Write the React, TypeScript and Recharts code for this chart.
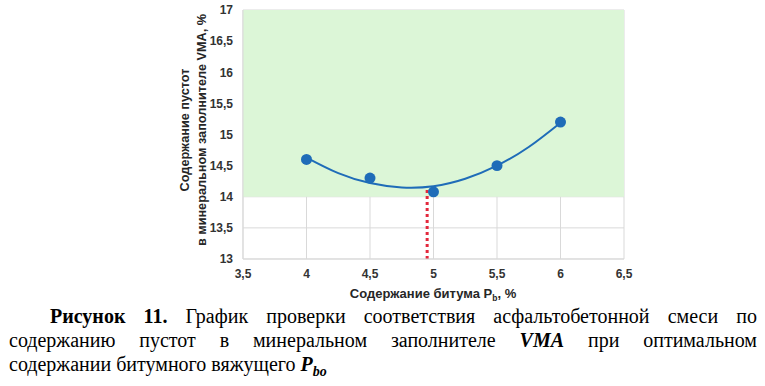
import {
  CartesianGrid,
  ComposedChart,
  Label,
  Line,
  ReferenceArea,
  ReferenceLine,
  Scatter,
  XAxis,
  YAxis,
  ZAxis,
} from 'recharts';

// measured points: bitumen content Pb, % -> VMA, %
const bitumen = [4, 4.5, 5, 5.5, 6];
const vma = [14.6, 14.3, 14.08, 14.5, 15.2];

// polynomial trend line
const trendX = [4, 4.25, 4.5, 4.75, 5, 5.25, 5.5, 5.75, 6];
const trendY = [14.63, 14.38, 14.22, 14.15, 14.17, 14.29, 14.5, 14.8, 15.19];

const xTicks = [3.5, 4, 4.5, 5, 5.5, 6, 6.5];
const yTicks = [13, 13.5, 14, 14.5, 15, 15.5, 16, 16.5, 17];

// allowed VMA zone and optimum bitumen content
const vmaMin = 14;
const vmaMax = 17;
const optimumPb = 4.95;
const optimumVma = 14.16;

const points = bitumen.map((x, i) => ({ x, y: vma[i] }));
const trend = trendX.map((x, i) => ({ x, y: trendY[i] }));

const blue = '#1f6cb8';
const grid = '#d9d9d9';
const sans = '"Liberation Sans", Arial, sans-serif';
const serif = '"Liberation Serif", "Times New Roman", serif';

const fmt = (v: number) => String(v).replace('.', ',');

const tickStyle = { fontFamily: sans, fontSize: 12, fontWeight: 700, fill: '#333' };

function YTitle(props: any) {
  const cy = 130;
  return (
    <g fontFamily={sans} fontSize={12.7} fontWeight={700} fill="#262626">
      <text x={189} y={cy} textAnchor="middle" transform={`rotate(-90 189 ${cy})`}>
        Содержание пустот
      </text>
      <text x={206} y={cy} textAnchor="middle" transform={`rotate(-90 206 ${cy})`}>
        в минеральном заполнителе VMA, %
      </text>
    </g>
  );
}

function XTitle(props: any) {
  return (
    <text x={433} y={298} textAnchor="middle" fontFamily={sans} fontSize={13} fontWeight={700} fill="#262626">
      Содержание битума P
      <tspan fontSize={8.5} dy={3}>b</tspan>
      <tspan dy={-3}>, %</tspan>
    </text>
  );
}

export default function App() {
  return (
    <div style={{ position: 'absolute', left: 0, top: 0, width: 765, height: 386, background: '#fff' }}>
      <ComposedChart width={765} height={386} margin={{ top: 10, right: 141, left: 0, bottom: 87 }}>
        <ReferenceArea y1={vmaMin} y2={vmaMax} fill="#dcf6d7" fillOpacity={1} stroke="none" />
        <CartesianGrid stroke={grid} strokeWidth={1} />
        <XAxis
          type="number"
          dataKey="x"
          domain={[3.5, 6.5]}
          ticks={xTicks}
          tickFormatter={fmt}
          tick={tickStyle}
          tickLine={false}
          tickSize={0}
          tickMargin={10}
          axisLine={{ stroke: grid }}
          height={40}
          allowDataOverflow
        >
          <Label content={<XTitle />} />
        </XAxis>
        <YAxis
          type="number"
          dataKey="y"
          domain={[13, 17]}
          ticks={yTicks}
          tickFormatter={fmt}
          tick={tickStyle}
          tickLine={false}
          tickSize={0}
          tickMargin={10}
          axisLine={{ stroke: grid }}
          width={243}
          allowDataOverflow
        >
          <Label content={<YTitle />} />
        </YAxis>
        <ZAxis range={[95, 95]} />
        <ReferenceLine
          segment={[
            { x: optimumPb, y: 13 },
            { x: optimumPb, y: optimumVma },
          ]}
          stroke="#e3283c"
          strokeWidth={3}
          strokeDasharray="3 3"
        />
        <Line
          data={trend}
          dataKey="y"
          type="natural"
          stroke={blue}
          strokeWidth={2}
          dot={false}
          activeDot={false}
          isAnimationActive={false}
        />
        <Scatter data={points} dataKey="y" fill={blue} shape="circle" isAnimationActive={false} />
      </ComposedChart>
      <div
        style={{
          position: 'absolute',
          left: 9,
          right: 8,
          top: 304,
          fontFamily: serif,
          fontSize: 20,
          lineHeight: '24px',
          color: '#000',
        }}
      >
        <div style={{ textAlign: 'justify', textAlignLast: 'justify', paddingLeft: 41 }}>
          <b>Рисунок 11.</b> График проверки соответствия асфальтобетонной смеси по
        </div>
        <div style={{ textAlign: 'justify', textAlignLast: 'justify' }}>
          содержанию пустот в минеральном заполнителе <b><i>VMA</i></b> при оптимальном
        </div>
        <div>
          содержании битумного вяжущего{' '}
          <b>
            <i>
              P<sub style={{ fontSize: 14, lineHeight: 0 }}>bo</sub>
            </i>
          </b>
        </div>
      </div>
    </div>
  );
}
